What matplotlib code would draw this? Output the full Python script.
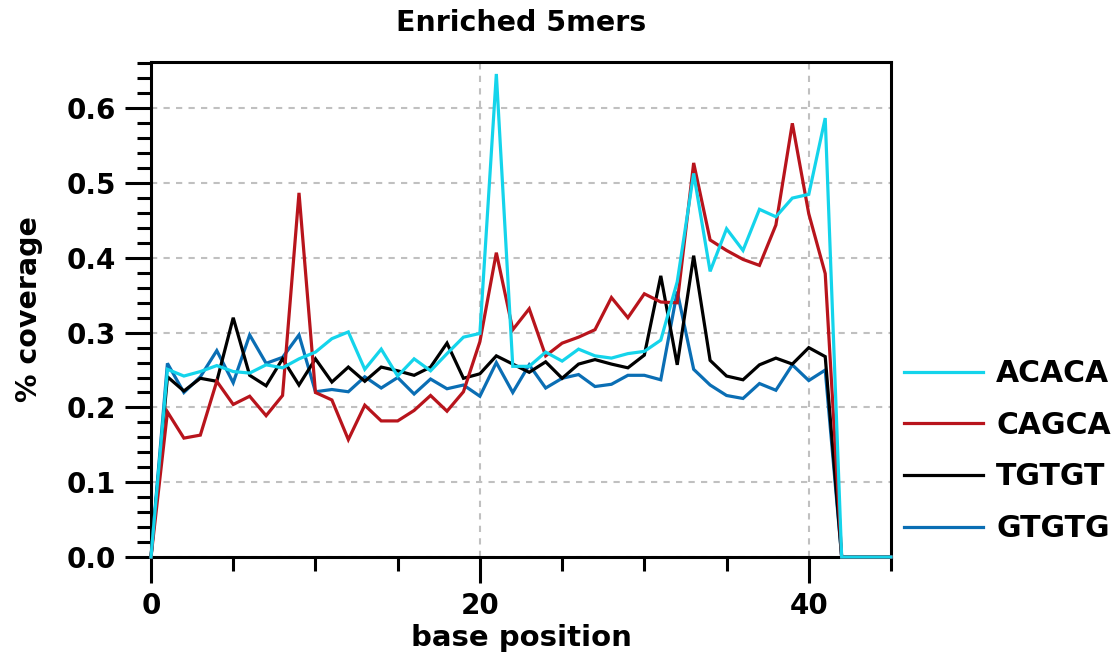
import matplotlib
matplotlib.use("Agg")
import matplotlib.pyplot as plt
from matplotlib.ticker import MultipleLocator, FormatStrFormatter

positions = list(range(0, 46))

acaca = [0.0, 0.251, 0.242, 0.248, 0.256, 0.248, 0.246, 0.257, 0.253, 0.265,
         0.274, 0.292, 0.301, 0.251, 0.278, 0.242, 0.265, 0.249, 0.272, 0.294,
         0.299, 0.646, 0.255, 0.255, 0.274, 0.262, 0.278, 0.269, 0.266, 0.272,
         0.275, 0.290, 0.368, 0.513, 0.382, 0.439, 0.410, 0.465, 0.455, 0.480,
         0.485, 0.587, 0.0, 0.0, 0.0, 0.0]
cagca = [0.0, 0.194, 0.159, 0.163, 0.235, 0.204, 0.215, 0.189, 0.216, 0.487,
         0.220, 0.210, 0.157, 0.203, 0.182, 0.182, 0.196, 0.216, 0.195, 0.221,
         0.288, 0.407, 0.304, 0.332, 0.269, 0.286, 0.294, 0.304, 0.347, 0.320,
         0.352, 0.341, 0.340, 0.527, 0.424, 0.410, 0.398, 0.390, 0.444, 0.580,
         0.459, 0.379, 0.0, 0.0, 0.0, 0.0]
tgtgt = [0.0, 0.241, 0.222, 0.239, 0.235, 0.320, 0.243, 0.229, 0.265, 0.230,
         0.265, 0.234, 0.254, 0.235, 0.254, 0.249, 0.243, 0.254, 0.286, 0.239,
         0.245, 0.269, 0.258, 0.247, 0.261, 0.239, 0.258, 0.264, 0.258, 0.253,
         0.270, 0.376, 0.257, 0.403, 0.263, 0.242, 0.237, 0.257, 0.266, 0.258,
         0.280, 0.268, 0.0, 0.0, 0.0, 0.0]
gtgtg = [0.0, 0.259, 0.220, 0.241, 0.276, 0.233, 0.297, 0.259, 0.267, 0.297,
         0.221, 0.224, 0.221, 0.241, 0.226, 0.240, 0.218, 0.238, 0.225, 0.230,
         0.215, 0.260, 0.220, 0.257, 0.226, 0.239, 0.244, 0.228, 0.231, 0.243,
         0.243, 0.237, 0.355, 0.251, 0.230, 0.216, 0.212, 0.232, 0.223, 0.257,
         0.236, 0.250, 0.0, 0.0, 0.0, 0.0]

series_names = ["ACACA", "CAGCA", "TGTGT", "GTGTG"]
series_values = [acaca, cagca, tgtgt, gtgtg]
colors = ["#14d4eb", "#b8141c", "#000000", "#0a6eb4"]

plt.rcParams['font.family'] = ["DejaVu Sans"]
plt.rcParams['font.weight'] = 'bold'

fig = plt.figure(figsize=(11.2, 6.56), dpi=100)
ax = fig.add_axes([151/1120, 1 - 557/656, (891-151)/1120, (557-62)/656])

handles = {}
for name, vals, c in reversed(list(zip(series_names, series_values, colors))):
    ln, = ax.plot(positions, vals, color=c, lw=2.3, clip_on=False, zorder=5,
                  solid_joinstyle='miter')
    handles[name] = ln

ax.set_xlim(0, 45)
ax.set_ylim(0, 0.662)

ax.xaxis.set_major_locator(MultipleLocator(20))
ax.xaxis.set_minor_locator(MultipleLocator(5))
ax.yaxis.set_major_locator(MultipleLocator(0.1))
ax.yaxis.set_minor_locator(MultipleLocator(0.02))
ax.yaxis.set_major_formatter(FormatStrFormatter('%.1f'))

ax.tick_params(axis='both', which='major', direction='out', length=19, width=2.2,
               labelsize=20, pad=6)
ax.tick_params(axis='both', which='minor', direction='out', length=10, width=2.2)
ax.tick_params(top=False, right=False)

for sp in ax.spines.values():
    sp.set_linewidth(2.2)

ax.grid(True, which='major', axis='both', color='#c0c0c0', linestyle=(0, (3, 3)), lw=1.5)
ax.set_axisbelow(True)

ax.set_title("Enriched 5mers", fontsize=20.5, fontweight='bold', pad=22)
ax.set_xlabel("base position", fontsize=21, fontweight='bold', labelpad=3)
ax.set_ylabel("% coverage", fontsize=20.5, fontweight='bold', labelpad=17)

leg = ax.legend([handles[n] for n in series_names], series_names,
                loc='upper left', bbox_to_anchor=(1.001, 0.424), frameon=False,
                fontsize=21.5, handlelength=2.65, handletextpad=0.45,
                labelspacing=0.76, borderaxespad=0)

fig.savefig("out.png", dpi=100)
